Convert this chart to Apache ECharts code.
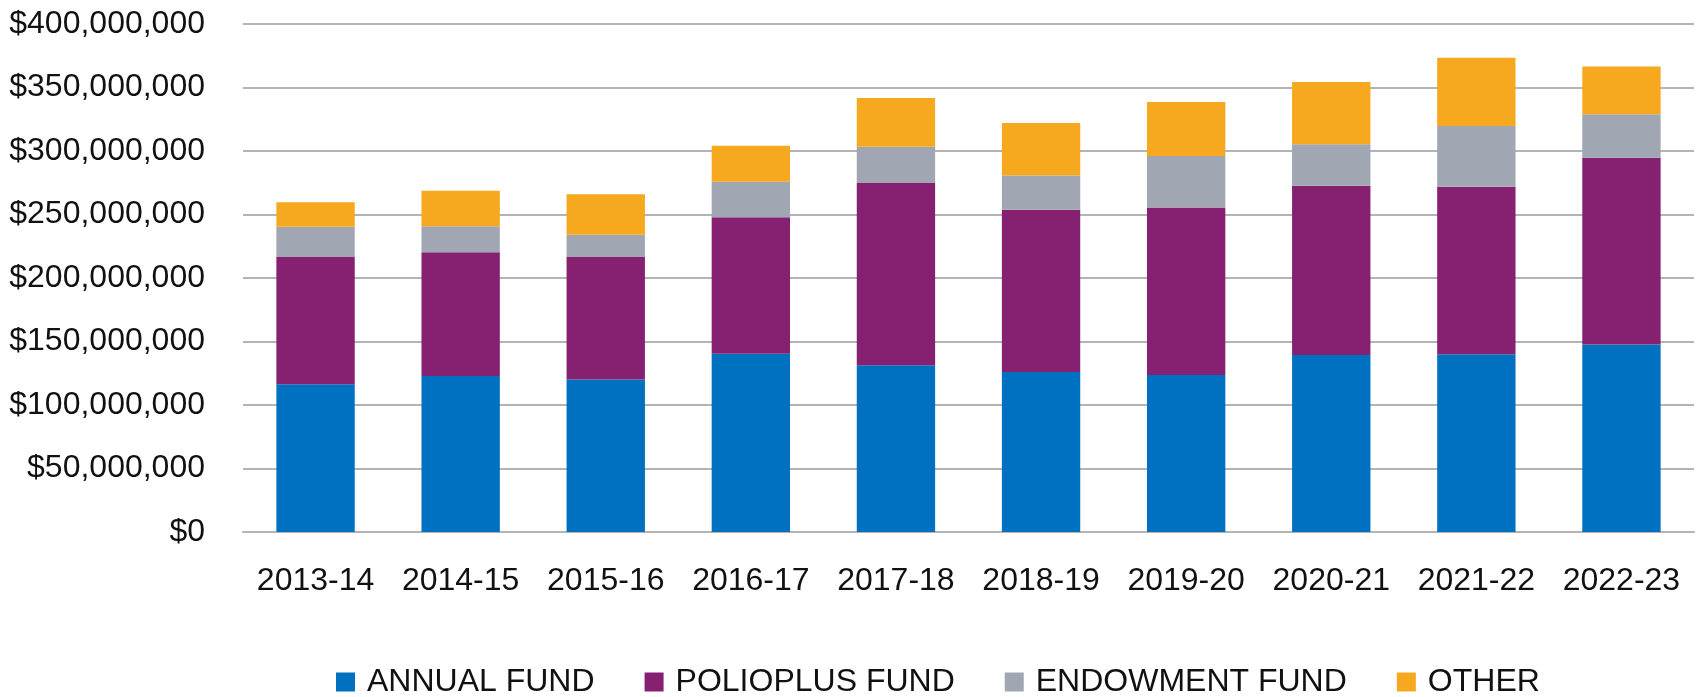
<!DOCTYPE html>
<html>
<head>
<meta charset="utf-8">
<script src="https://cdn.jsdelivr.net/npm/echarts@6/dist/echarts.min.js"></script>
<style>
  html, body { margin: 0; padding: 0; background: #fff; }
  #chart { width: 1702px; height: 697px; }
</style>
</head>
<body>
<div id="chart"></div>
<script>
// fiscal years
const years = ['2013-14', '2014-15', '2015-16', '2016-17', '2017-18', '2018-19', '2019-20', '2020-21', '2021-22', '2022-23']
// amounts in US dollars
const annualFund = [116.3e6, 122.8e6, 120.0e6, 140.3e6, 131.3e6, 125.9e6, 123.7e6, 139.4e6, 140.0e6, 147.6e6]
const polioplusFund = [100.3e6, 97.5e6, 96.6e6, 107.6e6, 143.6e6, 127.9e6, 131.8e6, 133.3e6, 131.8e6, 147.0e6]
const endowmentFund = [23.7e6, 20.5e6, 17.5e6, 27.9e6, 28.5e6, 27.0e6, 40.6e6, 32.7e6, 47.9e6, 34.4e6]
const other = [19.4e6, 27.9e6, 31.8e6, 28.4e6, 38.3e6, 41.2e6, 42.5e6, 49.0e6, 53.8e6, 37.5e6]

const font = 'Liberation Sans, Arial, sans-serif'

function bar (name, data, color) {
  return {
    name: name,
    type: 'bar',
    stack: 'total',
    barCategoryGap: '46%',
    itemStyle: { color: color },
    data: data
  }
}

echarts.init(document.getElementById('chart')).setOption({
  animation: false,
  textStyle: { fontFamily: font },
  grid: { left: 243, right: 8, top: 24, bottom: 165 },
  legend: {
    left: 331,
    top: 661,
    itemWidth: 19,
    itemHeight: 19,
    itemGap: 50,
    icon: 'rect',
    textStyle: { fontSize: 32, color: '#111', fontFamily: font, padding: [0, 0, 0, 7] }
  },
  xAxis: {
    type: 'category',
    data: years,
    axisLine: { lineStyle: { color: '#b4b4b4', width: 2 } },
    axisTick: { show: false },
    axisLabel: { fontSize: 32, color: '#111', margin: 33, interval: 0 }
  },
  yAxis: {
    type: 'value',
    min: 0,
    max: 400e6,
    interval: 50e6,
    axisLabel: {
      fontSize: 32,
      color: '#111',
      margin: 38,
      formatter: (v) => '$' + v.toLocaleString('en-US')
    },
    splitLine: { lineStyle: { color: '#b4b4b4', width: 2 } }
  },
  series: [
    bar('ANNUAL FUND', annualFund, '#0070C0'),
    bar('POLIOPLUS FUND', polioplusFund, '#862070'),
    bar('ENDOWMENT FUND', endowmentFund, '#A0A6B2'),
    bar('OTHER', other, '#F6A81F')
  ]
})
</script>
</body>
</html>
